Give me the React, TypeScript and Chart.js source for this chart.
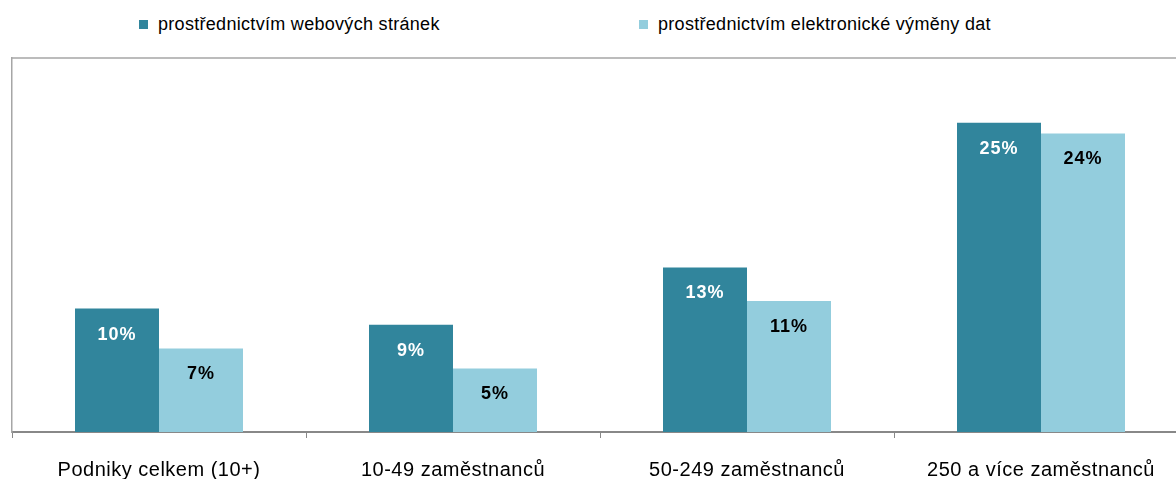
import React, { useEffect, useRef } from "react";
import { Chart, registerables } from "chart.js";

Chart.register(...registerables);

const categories = [
  "Podniky celkem (10+)",
  "10-49 zaměstnanců",
  "50-249 zaměstnanců",
  "250 a více zaměstnanců",
];
const seriesNames = [
  "prostřednictvím webových stránek",
  "prostřednictvím elektronické výměny dat",
];
const webValues = [9.9, 8.6, 13.2, 24.8];
const ediValues = [6.7, 5.1, 10.5, 23.95];
const seriesColors = ["#31859C", "#93CDDD"];
const labelColors = ["#ffffff", "#000000"];
const yMax = 30;

const FONT = "'Liberation Sans', Arial, sans-serif";

const spacingPlugin = {
  id: "spacing",
  beforeDraw(chart: any) {
    chart.ctx.letterSpacing = "0.5px";
  },
};

const decorPlugin = {
  id: "decor",
  afterDatasetsDraw(chart: any) {
    const { ctx, chartArea } = chart;
    ctx.save();
    ctx.strokeStyle = "#a6a6a6";
    ctx.lineWidth = 1.5;
    ctx.beginPath();
    ctx.moveTo(chartArea.left, chartArea.top);
    ctx.lineTo(chartArea.right, chartArea.top);
    ctx.stroke();
    ctx.font = `bold 18px ${FONT}`;
    ctx.letterSpacing = "1px";
    ctx.textAlign = "center";
    ctx.textBaseline = "middle";
    chart.data.datasets.forEach((ds: any, di: number) => {
      const meta = chart.getDatasetMeta(di);
      meta.data.forEach((bar: any, i: number) => {
        const v = ds.data[i];
        ctx.fillStyle = labelColors[di];
        ctx.fillText(Math.round(v) + "%", bar.x, bar.y + 26);
      });
    });
    ctx.restore();
  },
};

export default function App() {
  const ref = useRef<HTMLCanvasElement | null>(null);
  useEffect(() => {
    if (!ref.current) return;
    const chart = new Chart(ref.current, {
      type: "bar",
      data: {
        labels: categories,
        datasets: [
          {
            label: seriesNames[0],
            data: webValues,
            backgroundColor: seriesColors[0],
            categoryPercentage: 0.5714,
            barPercentage: 1,
          },
          {
            label: seriesNames[1],
            data: ediValues,
            backgroundColor: seriesColors[1],
            categoryPercentage: 0.5714,
            barPercentage: 1,
          },
        ],
      },
      options: {
        responsive: false,
        animation: false,
        layout: { padding: { top: 58, left: 4, right: 2, bottom: 0 } },
        plugins: {
          legend: { display: false },
          tooltip: { enabled: false },
        },
        scales: {
          x: {
            grid: {
              offset: true,
              drawOnChartArea: false,
              drawTicks: true,
              tickLength: 6,
              color: "#888888",
            },
            border: { display: true, color: "#888888", width: 2 },
            ticks: {
              padding: 20,
              color: "#000000",
              font: { family: FONT, size: 20 },
            },
          },
          y: {
            min: 0,
            max: yMax,
            grid: { display: false },
            border: { display: true, color: "#a6a6a6", width: 1.5 },
            ticks: { display: false },
          },
        },
      },
      plugins: [spacingPlugin, decorPlugin],
    });
    return () => chart.destroy();
  }, []);

  return (
    <div
      style={{
        position: "fixed",
        top: 0,
        left: 0,
        width: 1176,
        height: 479,
        overflow: "hidden",
        background: "#fff",
      }}
    >
      <div
        style={{
          position: "absolute",
          top: 13,
          left: 139,
          display: "flex",
          fontFamily: FONT,
          fontSize: 18,
          letterSpacing: "0.3px",
          color: "#000",
          lineHeight: "22px",
        }}
      >
        {seriesNames.map((n, i) => (
          <div
            key={n}
            style={{ width: 500, display: "flex", alignItems: "center" }}
          >
            <span
              style={{
                display: "inline-block",
                width: 9,
                height: 9,
                background: seriesColors[i],
                marginRight: 10,
              }}
            />
            <span>{n}</span>
          </div>
        ))}
      </div>
      <canvas
        ref={ref}
        width={1190}
        height={502}
        style={{ position: "absolute", top: 0, left: 0 }}
      />
    </div>
  );
}
